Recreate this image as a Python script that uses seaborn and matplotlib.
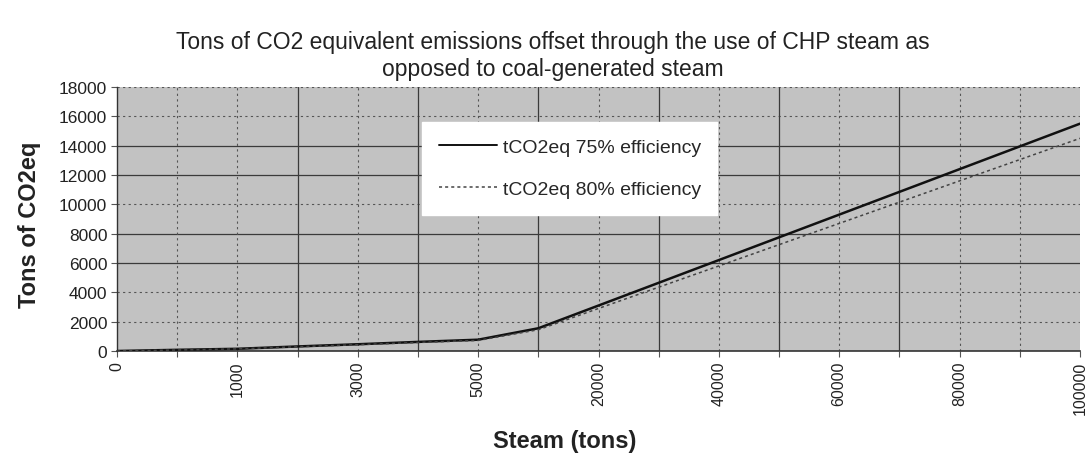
import matplotlib
matplotlib.use("Agg")
import matplotlib.pyplot as plt
import seaborn as sns
import pandas as pd
from matplotlib.lines import Line2D

steam = [0, 500, 1000, 2000, 3000, 4000, 5000, 10000, 20000, 30000,
         40000, 50000, 60000, 70000, 80000, 90000, 100000]
eff75 = [0, 80, 150, 310, 460, 620, 770, 1550, 3100, 4650,
         6200, 7750, 9300, 10850, 12400, 13950, 15500]
eff80 = [0, 70, 145, 290, 430, 580, 720, 1450, 2900, 4350,
         5800, 7250, 8700, 10150, 11600, 13050, 14500]
series_names = ["tCO2eq 75% efficiency", "tCO2eq 80% efficiency"]
shown_labels = ["0", "", "1000", "", "3000", "", "5000", "", "20000", "",
                "40000", "", "60000", "", "80000", "", "100000"]
y_ticks = [0, 2000, 4000, 6000, 8000, 10000, 12000, 14000, 16000, 18000]

pos = list(range(len(steam)))
df = pd.DataFrame({
    "pos": pos * 2,
    "val": eff75 + eff80,
    "series": [series_names[0]] * len(steam) + [series_names[1]] * len(steam),
})

sns.set_theme(style="white")
plt.rcParams["font.family"] = ["Liberation Sans", "DejaVu Sans"]

fig = plt.figure(figsize=(10.86, 4.56), dpi=100)
ax = fig.add_axes([117 / 1086, 1 - 352 / 456, (1080 - 117) / 1086, (352 - 88) / 456])
ax.set_facecolor("#c2c2c2")

solid_y = {6000, 8000, 12000, 14000}
for yv in y_ticks[1:]:
    if yv in solid_y:
        ax.axhline(yv, color="#3a3a3a", lw=0.9, zorder=1)
    else:
        ax.axhline(yv, color="#555555", lw=0.8, ls=(0, (2, 3)), zorder=1)
solid_x = {3, 5, 7, 9, 11, 13}
for p in pos[1:-1]:
    if p in solid_x:
        ax.axvline(p, color="#3a3a3a", lw=0.9, zorder=1)
    else:
        ax.axvline(p, color="#555555", lw=0.8, ls=(0, (2, 3)), zorder=1)

sns.lineplot(data=df, x="pos", y="val", hue="series", style="series",
             palette=["#111111", "#444444"],
             dashes={series_names[0]: "", series_names[1]: (2, 2)},
             ax=ax, zorder=3, legend=False)
lines = ax.get_lines()[-2:]
lines[0].set_linewidth(1.8)
lines[1].set_linewidth(1.1)

ax.set_xlim(0, len(steam) - 1)
ax.set_ylim(0, 18000)
ax.set_yticks(y_ticks)
ax.set_yticklabels([str(v) for v in y_ticks], fontsize=12.5, color="#222222")
ax.set_xticks(pos)
ax.set_xticklabels(shown_labels, rotation=90, fontsize=11.5, color="#222222")
ax.tick_params(axis="both", length=4, width=0.8, color="#555555", pad=3,
               bottom=True, left=True)
for s in ["top", "right"]:
    ax.spines[s].set_visible(False)
ax.spines["left"].set_color("#333333")
ax.spines["bottom"].set_color("#333333")
ax.spines["left"].set_linewidth(1.0)
ax.spines["bottom"].set_linewidth(1.2)

ax.set_xlabel("Steam (tons)", fontsize=17, fontweight="bold", color="#222222")
ax.set_ylabel("Tons of CO2eq", fontsize=17, fontweight="bold", color="#222222")
ax.xaxis.set_label_coords((565 - 117) / (1080 - 117), -(442 - 352) / (352 - 88))
ax.yaxis.set_label_coords(-(117 - 30) / (1080 - 117), 0.48)
ax.xaxis.label.set_va("center")
ax.yaxis.label.set_va("center")

fig.text(553 / 1086, 1 - 56 / 456,
         "Tons of CO2 equivalent emissions offset through the use of CHP steam as\nopposed to coal-generated steam",
         ha="center", va="center", fontsize=16.5, color="#222222", linespacing=1.2)

handles = [Line2D([], [], color="#111111", lw=1.4),
           Line2D([], [], color="#444444", lw=1.1, ls=(0, (2, 2)))]
leg = ax.legend(handles, series_names, loc="upper left",
                bbox_to_anchor=((422 - 117) / (1080 - 117), 1 - (123 - 88) / (352 - 88)),
                frameon=True, fancybox=False, fontsize=14, handlelength=3.0,
                labelspacing=1.25, borderpad=0.85, handletextpad=0.3, borderaxespad=0)
leg.get_frame().set_facecolor("white")
leg.get_frame().set_edgecolor("white")
leg.get_frame().set_alpha(1)
leg.set_zorder(5)

fig.savefig("out.png", dpi=100, facecolor="white")
